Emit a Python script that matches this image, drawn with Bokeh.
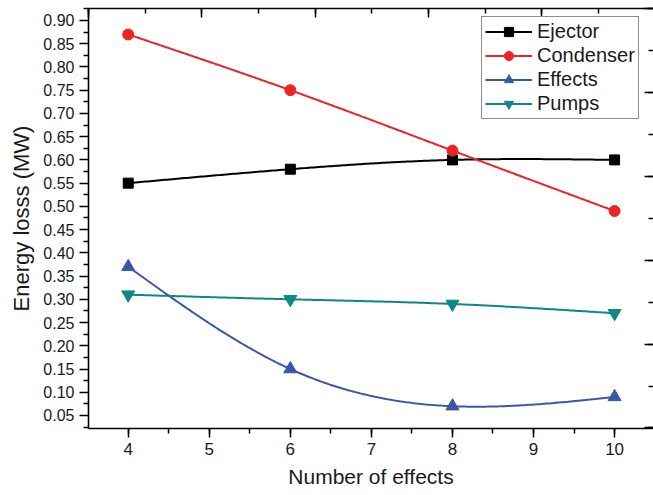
import numpy as np
from bokeh.plotting import figure
from bokeh.models import (LinearAxis, Range1d, SingleIntervalTicker, Legend, LegendItem,
                          FixedTicker, NumeralTickFormatter, CustomJSTickFormatter)
from bokeh.embed import file_html
from bokeh.resources import INLINE

# ---- data ----
effects_n = [4, 6, 8, 10]
ejector = [0.55, 0.58, 0.60, 0.60]
condenser = [0.87, 0.75, 0.62, 0.49]
effects = [0.37, 0.15, 0.07, 0.09]
pumps = [0.31, 0.30, 0.29, 0.27]
series_names = ["Ejector", "Condenser", "Effects", "Pumps"]
y_ticks = [0.05, 0.10, 0.15, 0.20, 0.25, 0.30, 0.35, 0.40, 0.45,
           0.50, 0.55, 0.60, 0.65, 0.70, 0.75, 0.80, 0.85, 0.90]
x_ticks = [4, 5, 6, 7, 8, 9, 10]

FONT = "Liberation Sans"


def natural_spline(x, y, n=200):
    x = np.asarray(x, float)
    y = np.asarray(y, float)
    k = len(x)
    h = np.diff(x)
    A = np.zeros((k, k))
    b = np.zeros(k)
    A[0, 0] = 1
    A[-1, -1] = 1
    for i in range(1, k - 1):
        A[i, i - 1] = h[i - 1]
        A[i, i] = 2 * (h[i - 1] + h[i])
        A[i, i + 1] = h[i]
        b[i] = 6 * ((y[i + 1] - y[i]) / h[i] - (y[i] - y[i - 1]) / h[i - 1])
    M = np.linalg.solve(A, b)
    xs = np.linspace(x[0], x[-1], n)
    idx = np.clip(np.searchsorted(x, xs) - 1, 0, k - 2)
    x0 = x[idx]
    x1 = x[idx + 1]
    hh = x1 - x0
    ys = (M[idx] * (x1 - xs) ** 3 / (6 * hh) + M[idx + 1] * (xs - x0) ** 3 / (6 * hh)
          + (y[idx] / hh - M[idx] * hh / 6) * (x1 - xs)
          + (y[idx + 1] / hh - M[idx + 1] * hh / 6) * (xs - x0))
    return xs, ys


p = figure(width=653, height=495, output_backend="svg", toolbar_location=None,
           x_range=Range1d(3.51, 10.48), y_range=Range1d(0.022, 0.9258),
           min_border_left=88, min_border_right=0, min_border_top=8, min_border_bottom=67)
p.outline_line_color = None
p.xgrid.visible = False
p.ygrid.visible = False
p.background_fill_color = "white"

# left axis
ya = p.yaxis[0]
ya.ticker = FixedTicker(ticks=y_ticks,
                        minor_ticks=[round(0.025 + 0.05 * i, 3) for i in range(19)])
ya.formatter = NumeralTickFormatter(format="0.00")
ya.axis_label = "Energy losss (MW)"
xa = p.xaxis[0]
xa.ticker = FixedTicker(ticks=x_ticks, minor_ticks=[3.5 + 0.5 * i for i in range(15)])
xa.axis_label = "Number of effects"
for ax in [xa, ya]:
    ax.axis_line_width = 1.6
    ax.major_tick_line_width = 1.5
    ax.minor_tick_line_width = 1.5
    ax.major_tick_out = 9
    ax.major_tick_in = 0
    ax.minor_tick_out = 5
    ax.minor_tick_in = 0
    ax.major_label_text_font = FONT
    ax.axis_label_text_font = FONT
    ax.axis_label_text_font_style = "normal"
    ax.major_label_text_color = "#1a1a1a"
    ax.axis_label_text_color = "#1a1a1a"
ya.major_label_text_font_size = "16px"
ya.major_label_standoff = 5
ya.axis_label_text_font_size = "22px"
ya.axis_label_standoff = 6
xa.major_label_text_font_size = "17px"
xa.major_label_standoff = 5
xa.axis_label_text_font_size = "21px"
xa.axis_label_standoff = 7

# top and right frame axes (no labels, inward ticks)
blank = CustomJSTickFormatter(code="return ''")
p.extra_x_ranges = {"top": Range1d(0, 4.986)}
p.extra_y_ranges = {"right": Range1d(-0.006, 5.0)}
top = LinearAxis(x_range_name="top", ticker=SingleIntervalTicker(interval=1, num_minor_ticks=2),
                 formatter=blank, major_label_text_font_size="1px", major_label_standoff=0,
                 major_tick_in=9, major_tick_out=0, minor_tick_in=5, minor_tick_out=0,
                 axis_line_width=1.6, major_tick_line_width=1.5, minor_tick_line_width=1.5)
right = LinearAxis(y_range_name="right", ticker=SingleIntervalTicker(interval=1, num_minor_ticks=2),
                   formatter=blank, major_label_text_font_size="1px", major_label_standoff=0,
                   major_tick_in=9, major_tick_out=0, minor_tick_in=5, minor_tick_out=0,
                   axis_line_color=None, major_tick_line_width=1.5, minor_tick_line_width=1.5)
p.add_layout(top, "above")
p.add_layout(right, "right")

colors = ["#000000", "#EC2327", "#3C55A6", "#0D8884"]
markers = ["square", "circle", "triangle", "inverted_triangle"]
sizes = [10, 11, 13, 13]
data = [ejector, condenser, effects, pumps]

items = []
for name, vals, c, m, s in zip(series_names, data, colors, markers, sizes):
    xs, ys = natural_spline(effects_n, vals)
    ln = p.line(xs, ys, line_color=c, line_width=2)
    sc = p.scatter(effects_n, vals, marker=m, size=s, fill_color=c, line_color=c)
    items.append(LegendItem(label=name, renderers=[ln, sc]))

legend = Legend(items=items, location=(393, 309))
legend.label_text_font = FONT
legend.label_text_font_size = "20px"
legend.label_text_color = "#1a1a1a"
legend.glyph_width = 47
legend.glyph_height = 23
legend.label_height = 23
legend.spacing = 1
legend.padding = 3
legend.label_standoff = 5
legend.border_line_color = "#222222"
legend.border_line_width = 1.2
legend.background_fill_alpha = 1
p.add_layout(legend, "center")

open("out.html", "w").write(file_html(p, INLINE))
